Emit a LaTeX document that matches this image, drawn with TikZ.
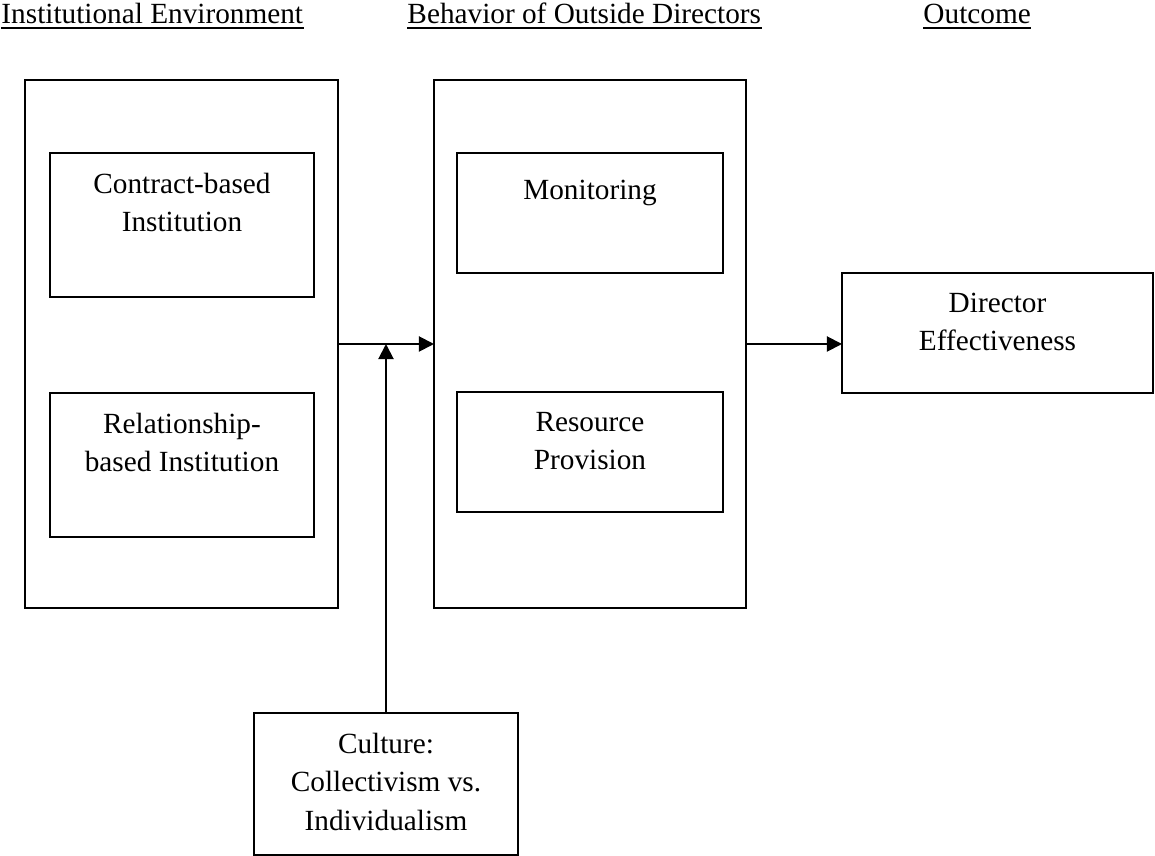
\documentclass[tikz,border=0pt]{standalone}
\usepackage{fontspec}
\setmainfont{Liberation Serif}
\usetikzlibrary{positioning,fit,arrows.meta}
\begin{document}
\begin{tikzpicture}[x=0.41pt,y=-0.41pt]
	\tikzstyle{frame}=[draw=black,line width=0.8pt,inner sep=0pt,outer sep=0pt]
	\tikzstyle{boxtext}=[align=center,inner sep=0pt,font=\fontsize{12}{15.8}\selectfont,execute at begin node=\strut]
	\tikzstyle{header}=[inner sep=0pt,anchor=base west,font=\fontsize{12}{15.8}\selectfont]
	\tikzstyle{edge}=[draw,line width=0.8pt,-{Triangle[length=6.2pt,width=6.2pt]}]
	\useasboundingbox (0,0) rectangle (1155,856);
	% headers
	\node [header] (envhdr) at (1,24) {Institutional Environment};
	\node [header] (behhdr) at (407,24) {Behavior of Outside Directors};
	\node [header] (outhdr) at (923,24) {Outcome};
	\foreach \h in {envhdr,behhdr,outhdr}
		\draw [line width=0.8pt] ([yshift=-1.6pt]\h.base west) -- ([yshift=-1.6pt]\h.base east);
	% boxes
	\node [frame,fit={(25,80) (338,608)}] (inst) {};
	\node [frame,fit={(50,153) (314,297)}] (contract) {};
	\node [frame,fit={(50,393) (314,537)}] (relation) {};
	\node [frame,fit={(434,80) (746,608)}] (behav) {};
	\node [frame,fit={(457,153) (723,273)}] (monitor) {};
	\node [frame,fit={(457,392) (723,512)}] (resource) {};
	\node [frame,fit={(842,273) (1153,393)}] (director) {};
	\node [frame,fit={(254,713) (518,855)}] (culture) {};
	% texts
	\node [boxtext,below=8pt of contract.north] (contracttxt) {Contract-based\\Institution};
	\node [boxtext,below=8pt of relation.north] (relationtxt) {Relationship-\\based Institution};
	\node [boxtext,below=8pt of monitor.north] (monitortxt) {Monitoring};
	\node [boxtext,below=8pt of resource.north] (resourcetxt) {Resource\\Provision};
	\node [boxtext,below=8pt of director.north] (directortxt) {Director\\Effectiveness};
	\node [boxtext,below=8pt of culture.north] (culturetxt) {Culture:\\Collectivism vs.\\Individualism};
	% arrows
	\path[edge] (inst.east) -- (behav.west);
	\path[edge] (behav.east) -- (behav.east -| director.west);
	\path[edge] (culture.north) -- (culture.north |- inst.east);
\end{tikzpicture}
\end{document}
